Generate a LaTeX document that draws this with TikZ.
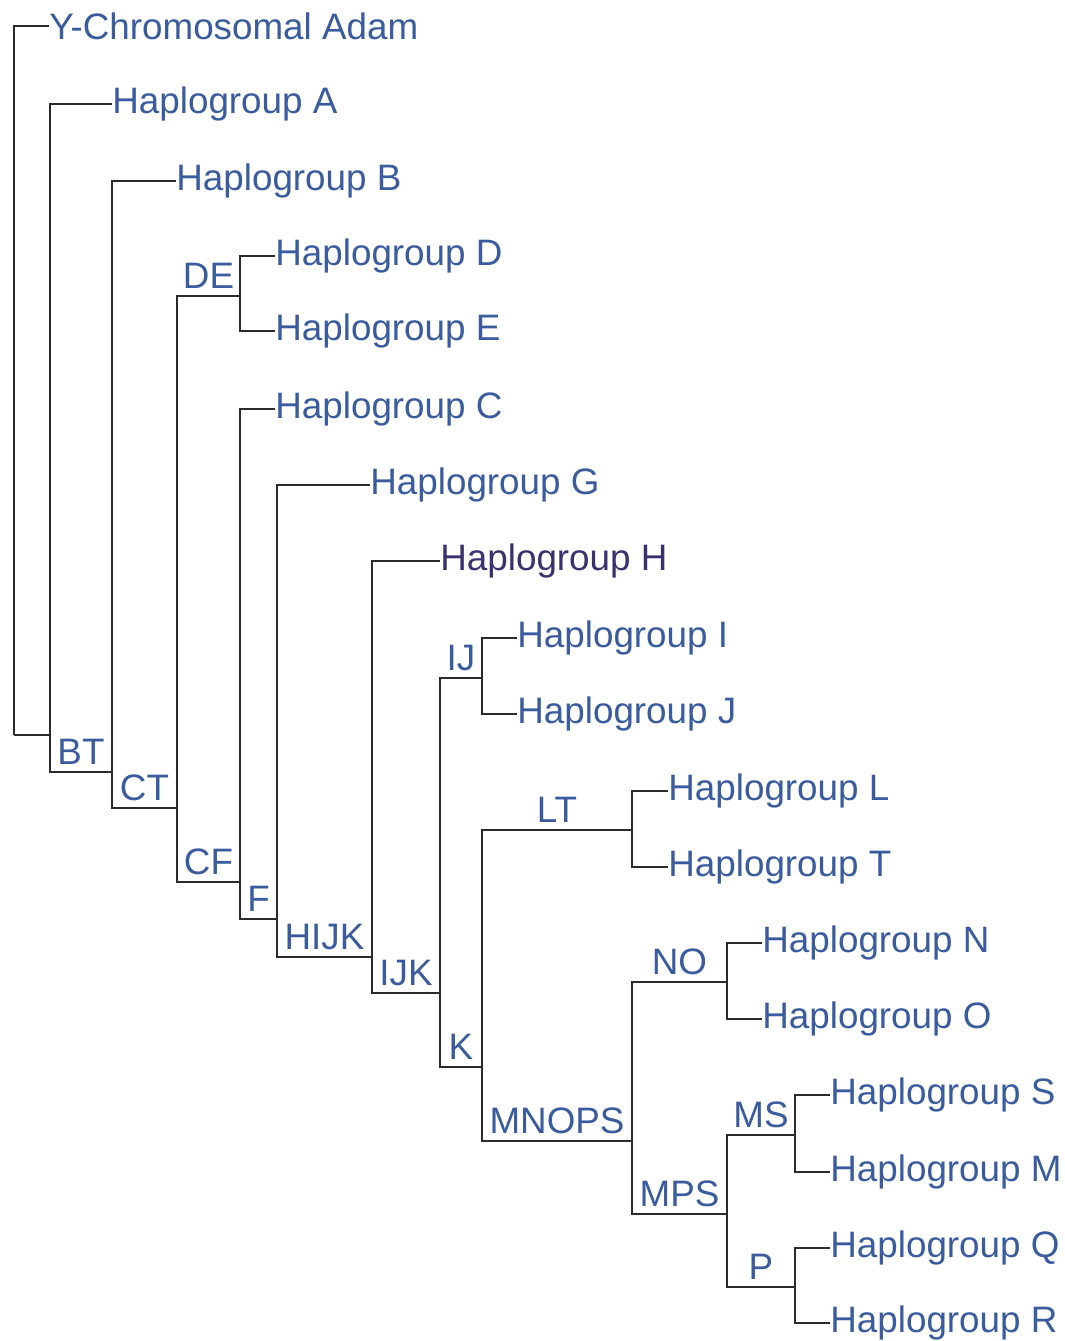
\documentclass[tikz,border=0pt]{standalone}
\usepackage{fontspec}
\setmainfont{Liberation Sans}
\definecolor{treeblue}{HTML}{3A5C9E}
\definecolor{treeplum}{HTML}{3A306E}
\definecolor{treegray}{HTML}{2B2B2B}
\usepackage{tikz}
\usetikzlibrary{positioning}

\begin{document}
\begin{tikzpicture}[x=0.5pt, y=-0.5pt,
    leaf/.style={anchor=west, inner sep=0pt, text=treeblue,
      font=\fontsize{18.4}{22}\selectfont},
    clade/.style={above, inner sep=3.2pt, text=treeblue,
      font=\fontsize{18.4}{22}\selectfont},
    branch/.style={treegray, line width=1.1pt}]
    \useasboundingbox (0,0) rectangle (1065,1341);
    % Leaves
    \node[leaf] (adam) at (49,26) {Y-Chromosomal Adam};
    \node[leaf] (hA) at (112,104) {Haplogroup A};
    \node[leaf] (hB) at (176,181) {Haplogroup B};
    \node[leaf] (hD) at (275,256) {Haplogroup D};
    \node[leaf] (hE) at (275,331) {Haplogroup E};
    \node[leaf] (hC) at (275,409) {Haplogroup C};
    \node[leaf] (hG) at (370,485) {Haplogroup G};
    \node[leaf, text=treeplum] (hH) at (440,561) {Haplogroup H};
    \node[leaf] (hI) at (517,638) {Haplogroup I};
    \node[leaf] (hJ) at (517,714) {Haplogroup J};
    \node[leaf] (hL) at (668,791) {Haplogroup L};
    \node[leaf] (hT) at (668,867) {Haplogroup T};
    \node[leaf] (hN) at (762,943) {Haplogroup N};
    \node[leaf] (hO) at (762,1019) {Haplogroup O};
    \node[leaf] (hS) at (830,1095) {Haplogroup S};
    \node[leaf] (hM) at (830,1172) {Haplogroup M};
    \node[leaf] (hQ) at (830,1248) {Haplogroup Q};
    \node[leaf] (hR) at (830,1323) {Haplogroup R};
    % Branch points
    \coordinate (root) at (14,735);
    \coordinate (at) at (50,735);
    \coordinate (bt) at (112,772);
    \coordinate (ct) at (177,808);
    \coordinate (de) at (240,296);
    \coordinate (cf) at (240,882);
    \coordinate (f) at (277,919);
    \coordinate (hijk) at (372,957);
    \coordinate (ijk) at (440,993);
    \coordinate (ij) at (482,678);
    \coordinate (k) at (482,1067);
    \coordinate (lt) at (632,830);
    \coordinate (mnops) at (632,1141);
    \coordinate (no) at (727,982);
    \coordinate (mps) at (727,1214);
    \coordinate (ms) at (795,1135);
    \coordinate (p) at (795,1287);
    % Backbone
    \draw[branch] (root) |- (adam) (root) -- (at);
    \draw[branch] (at) |- (hA);
    \draw[branch] (at) |- (bt) node[clade, pos=.75] {BT};
    \draw[branch] (bt) |- (hB);
    \draw[branch] (bt) |- (ct) node[clade, pos=.75] {CT};
    \draw[branch] (ct) |- (de) node[clade, pos=.75] {DE};
    \draw[branch] (ct) |- (cf) node[clade, pos=.75] {CF};
    \draw[branch] (de) |- (hD) (de) |- (hE);
    \draw[branch] (cf) |- (hC);
    \draw[branch] (cf) |- (f) node[clade, pos=.75] {F};
    \draw[branch] (f) |- (hG);
    \draw[branch] (f) |- (hijk) node[clade, pos=.75] {HIJK};
    \draw[branch] (hijk) |- (hH);
    \draw[branch] (hijk) |- (ijk) node[clade, pos=.75] {IJK};
    \draw[branch] (ijk) |- (ij) node[clade, pos=.75] {IJ};
    \draw[branch] (ijk) |- (k) node[clade, pos=.75] {K};
    \draw[branch] (ij) |- (hI) (ij) |- (hJ);
    % K subtree
    \draw[branch] (k) |- (lt) node[clade, pos=.75] {LT};
    \draw[branch] (k) |- (mnops) node[clade, pos=.75] {MNOPS};
    \draw[branch] (lt) |- (hL) (lt) |- (hT);
    \draw[branch] (mnops) |- (no) node[clade, pos=.75] {NO};
    \draw[branch] (mnops) |- (mps) node[clade, pos=.75] {MPS};
    \draw[branch] (no) |- (hN) (no) |- (hO);
    \draw[branch] (mps) |- (ms) node[clade, pos=.75] {MS};
    \draw[branch] (mps) |- (p) node[clade, pos=.75] {P};
    \draw[branch] (ms) |- (hS) (ms) |- (hM);
    \draw[branch] (p) |- (hQ) (p) |- (hR);
\end{tikzpicture}
\end{document}
